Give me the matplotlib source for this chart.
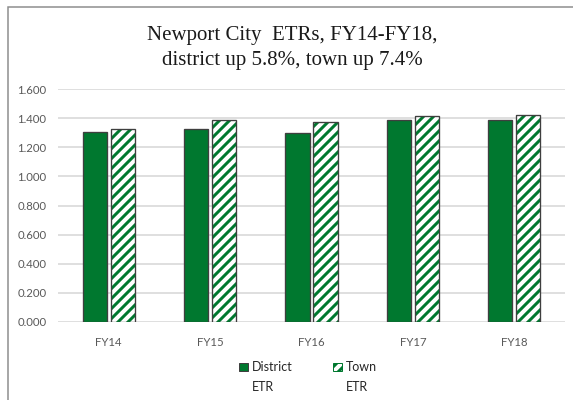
import matplotlib
matplotlib.use("Agg")
import matplotlib.pyplot as plt
import numpy as np
from matplotlib.patches import Patch, Rectangle

categories = ["FY14", "FY15", "FY16", "FY17", "FY18"]
district_etr = [1.308, 1.325, 1.297, 1.386, 1.384]
town_etr = [1.325, 1.384, 1.375, 1.418, 1.423]
yticks = [0.0, 0.2, 0.4, 0.6, 0.8, 1.0, 1.2, 1.4, 1.6]

GREEN = "#00782F"
EDGE = "#3F3F3F"
TICK = "#595959"
GRID = "#D9D9D9"

DPI = 120
plt.rcParams["hatch.linewidth"] = 1.8
fig = plt.figure(figsize=(573 / DPI, 400 / DPI), dpi=DPI)
ax = fig.add_axes([58 / 573, 1 - 322 / 400, (565 - 58) / 573, (322 - 89) / 400])

x = np.arange(len(categories))
w = 0.237
off = 0.138
ax.bar(x - off, district_etr, w, color=GREEN, edgecolor=EDGE, linewidth=0.8, zorder=3)
ax.bar(x + off, town_etr, w, color="white", edgecolor=GREEN, hatch="////", linewidth=0, zorder=3)
ax.bar(x + off, town_etr, w, fill=False, edgecolor=EDGE, linewidth=0.8, zorder=4)

ax.set_xlim(-0.5, len(categories) - 0.5)
ax.set_ylim(0, 1.6)
ax.set_yticks(yticks)
ax.set_yticklabels([f"{v:.3f}" for v in yticks])
ax.set_xticks(x)
ax.set_xticklabels(categories)
for s in ax.spines.values():
    s.set_visible(False)
ax.grid(axis="y", color=GRID, linewidth=1.0, zorder=0)
ax.set_axisbelow(True)
ax.tick_params(length=0, labelsize=6.8, labelcolor=TICK, pad=7)
for lbl in ax.get_xticklabels() + ax.get_yticklabels():
    lbl.set_family("Lato")
ax.tick_params(axis="x", pad=9)

fig.text(292 / 573, 1 - 48 / 400, "Newport City  ETRs, FY14-FY18,\ndistrict up 5.8%, town up 7.4%",
         ha="center", va="center", family="Liberation Serif", fontsize=12.5, color="#1a1a1a",
         linespacing=1.45)

handles = [Patch(facecolor=GREEN, edgecolor=EDGE, linewidth=0.6),
           Patch(facecolor="none", edgecolor="none"),
           Patch(facecolor="white", edgecolor=GREEN, hatch="////", linewidth=0.6),
           Patch(facecolor="none", edgecolor="none")]
labels = ["District", "ETR", "Town", "ETR"]
leg = fig.legend(handles, labels, ncol=2, loc="center", bbox_to_anchor=(308 / 573, 1 - 377 / 400),
                 frameon=False, prop={"family": "Lato", "size": 7.5},
                 handlelength=0.7, handleheight=0.7, handletextpad=0.3,
                 columnspacing=3.3, labelspacing=0.6)
for t in leg.get_texts():
    t.set_color("#262626")

fig.patches.append(Rectangle((8 / 573, -0.05), 1.1, 1 - 7 / 400 + 0.05, transform=fig.transFigure,
                             fill=False, edgecolor="#8C8C8C", linewidth=0.9))

fig.savefig("out.png", dpi=DPI)
